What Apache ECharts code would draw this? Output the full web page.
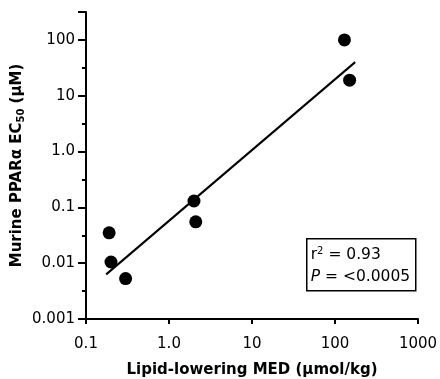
<!DOCTYPE html>
<html><head><meta charset="utf-8">
<script src="https://cdn.jsdelivr.net/npm/echarts@6/dist/echarts.min.js"></script>
<style>html,body{margin:0;padding:0;background:#fff}#c{width:440px;height:379px}</style>
</head><body><div id="c"></div>
<script>
// Lipid-lowering MED (µmol/kg) vs murine PPARα EC50 (µM)
const medValues = [130, 150, 2.0, 2.1, 0.19, 0.2, 0.3];
const ec50Values = [100, 19, 0.13, 0.055, 0.035, 0.0105, 0.0053];
const fitX = [0.175, 175];
const fitY = [0.0063, 40];
const xTickLabels = ['0.1', '1.0', '10', '100', '1000'];
const yTickLabels = ['0.001', '0.01', '0.1', '1.0', '10', '100'];

const FONT = '"DejaVu Sans", sans-serif';
function labelFor(list, v) {
  const e = Math.log10(v);
  if (Math.abs(e - Math.round(e)) > 1e-6) return '';
  for (const s of list) { if (Math.abs(Math.log10(parseFloat(s)) - e) < 1e-6) return s; }
  return '';
}
const chart = echarts.init(document.getElementById('c'));
const axisLine = { lineStyle: { color: '#000', width: 2 } };
chart.setOption({
  animation: false,
  grid: { left: 86, right: 22, top: 12, bottom: 60, containLabel: false, outerBoundsMode: 'none' },
  xAxis: [{
    type: 'log', logBase: 10, min: 0.1, max: 1000, interval: 1,
    axisLine: axisLine,
    axisTick: { show: true, length: 5, inside: false, lineStyle: { color: '#000', width: 2 } },
    axisLabel: { color: '#000', fontSize: 15, fontFamily: FONT, margin: 18,
      formatter: v => labelFor(xTickLabels, v) },
    splitLine: { show: false },
    name: 'Lipid-lowering MED (μmol/kg)', nameLocation: 'middle', nameGap: 44,
    nameMoveOverlap: false,
    nameTextStyle: { color: '#000', fontSize: 15, fontWeight: 'bold', fontFamily: FONT }
  }],
  yAxis: [{
    type: 'log', logBase: 10, min: 0.001, max: Math.pow(10, 2.5), interval: 0.5,
    axisLine: axisLine,
    axisTick: { show: true, length: 4, lineStyle: { color: '#000', width: 2 } },
    axisLabel: { show: false },
    splitLine: { show: false }
  }, {
    type: 'log', logBase: 10, min: 0.001, max: Math.pow(10, 2.5), interval: 1,
    position: 'left',
    axisLine: { show: false },
    axisTick: { show: true, length: 8, lineStyle: { color: '#000', width: 2 } },
    axisLabel: { color: '#000', fontSize: 15, fontFamily: FONT, margin: 11,
      formatter: v => labelFor(yTickLabels, v) },
    splitLine: { show: false },
    name: 'Murine PPARα EC{sub|50} (μM)', nameLocation: 'middle', nameGap: 60,
    nameMoveOverlap: false,
    nameTextStyle: { color: '#000', fontSize: 15, fontWeight: 'bold', fontFamily: FONT,
      rich: { sub: { fontSize: 10, fontWeight: 'bold', fontFamily: FONT, color: '#000', padding: [8, 0, 0, 0] } } }
  }],
  series: [{
    type: 'scatter', xAxisIndex: 0, yAxisIndex: 1,
    symbol: 'circle', symbolSize: 13,
    itemStyle: { color: '#000', opacity: 1 },
    data: medValues.map((x, i) => [x, ec50Values[i]]),
    z: 3
  }, {
    type: 'line', xAxisIndex: 0, yAxisIndex: 1,
    showSymbol: false, symbol: 'none',
    lineStyle: { color: '#000', width: 2 },
    data: fitX.map((x, i) => [x, fitY[i]]),
    z: 2
  }],
  graphic: [{
    type: 'group', left: 306, top: 238,
    children: [{
      type: 'rect', shape: { x: 0, y: 0, width: 109, height: 52 },
      style: { fill: '#fff', stroke: '#000', lineWidth: 1.5 }
    }, {
      type: 'text', left: 4, top: 8,
      style: { text: 'r{sup|2} = 0.93', fill: '#000', fontSize: 15.5, fontFamily: FONT,
        rich: { sup: { fontSize: 10, padding: [0, 0, 7, 0], fontFamily: FONT } } }
    }, {
      type: 'text', left: 4, top: 30,
      style: { text: '{i|P} = <0.0005', fill: '#000', fontSize: 15.5, fontFamily: FONT,
        rich: { i: { fontStyle: 'italic', fontSize: 15.5, fontFamily: FONT } } }
    }]
  }]
});
</script>
</body></html>
